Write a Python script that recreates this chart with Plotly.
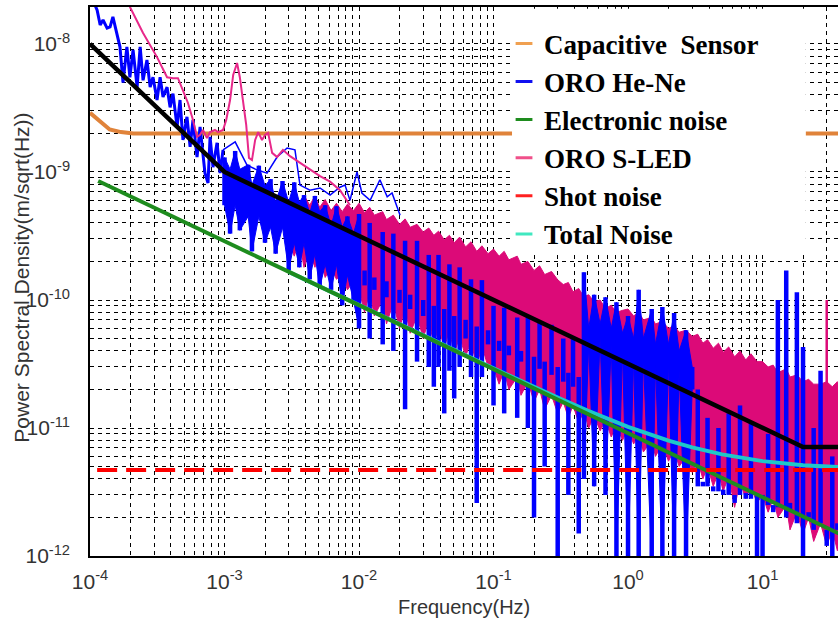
import plotly.graph_objects as go

# ---------------- data ----------------
# common frequency grid of the dense high-resolution spectra (Hz)
dense_freq = [
    1.0e-3, 1.1e-3, 1.2e-3, 1.3e-3, 1.5e-3, 1.6e-3, 1.8e-3, 2.0e-3, 2.2e-3, 2.4e-3, 2.7e-3, 3.0e-3,
    3.3e-3, 3.6e-3, 3.9e-3, 4.3e-3, 4.7e-3, 5.1e-3, 5.6e-3, 6.2e-3, 6.8e-3, 7.5e-3, 8.2e-3, 9.1e-3,
    1.0e-2, 1.1e-2, 1.2e-2, 1.3e-2, 1.5e-2, 1.6e-2, 1.8e-2, 2.0e-2, 2.2e-2, 2.4e-2, 2.7e-2, 3.0e-2,
    3.3e-2, 3.6e-2, 3.9e-2, 4.3e-2, 4.7e-2, 5.1e-2, 5.6e-2, 6.2e-2, 6.8e-2, 7.5e-2, 8.2e-2, 9.1e-2,
    0.10, 0.11, 0.12, 0.13, 0.15, 0.16, 0.18, 0.20, 0.22, 0.24, 0.27, 0.30,
    0.33, 0.36, 0.39, 0.43, 0.47, 0.51, 0.56, 0.62, 0.68, 0.75, 0.82, 0.91,
    1.0, 1.1, 1.2, 1.3, 1.5, 1.6, 1.8, 2.0, 2.2, 2.4, 2.7, 3.0,
    3.3, 3.6, 3.9, 4.3, 4.7, 5.1, 5.6, 6.2, 6.8, 7.5, 8.2, 9.1,
    10, 11, 12, 13, 15, 16, 18, 20, 22, 24, 27, 30, 33, 36, 39]

# ORO He-Ne: upper / lower edge of the dense spectrum (m/sqrt(Hz))
he_ne_upper = [
    1.3e-9, 1.05e-9, 1.46e-9, 1.05e-9, 1.14e-9, 7.9e-10, 1.12e-9, 7.8e-10, 8.8e-10, 5.8e-10, 8.5e-10, 5.8e-10,
    8.3e-10, 5.8e-10, 6.6e-10, 4.8e-10, 6.5e-10, 4.9e-10, 5.5e-10, 3.8e-10, 5.4e-10, 3.7e-10, 4.5e-10, 3.3e-10,
    4.7e-10, 1.7e-10, 4.0e-10, 1.5e-10, 3.4e-10, 1.4e-10, 3.3e-10, 1.2e-10, 2.9e-10, 1.1e-10, 2.9e-10, 1.0e-10,
    2.25e-10, 9.0e-11, 2.25e-10, 8.5e-11, 1.9e-10, 7.5e-11, 1.8e-10, 7.0e-11, 1.45e-10, 6.2e-11, 1.43e-10, 5.8e-11,
    9.0e-11, 4.8e-11, 8.7e-11, 4.4e-11, 7.3e-11, 4.0e-11, 7.5e-11, 3.6e-11, 6.7e-11, 3.3e-11, 6.4e-11, 3.0e-11,
    5.0e-11, 2.7e-11, 5.1e-11, 2.5e-11, 1.65e-10, 6.0e-11, 1.1e-10, 6.5e-11, 1.05e-10, 6.0e-11, 9.6e-11, 5.5e-11,
    7.5e-11, 5.0e-11, 1.2e-10, 5.0e-11, 8.5e-11, 4.5e-11, 8.8e-11, 4.5e-11, 7.9e-11, 4.0e-11, 5.8e-11, 3.0e-11,
    2.0e-11, 3.8e-12, 1.2e-11, 3.5e-12, 1.0e-11, 3.3e-12, 1.3e-11, 3.0e-12, 1.5e-11, 3.1e-12, 1.1e-11, 3.0e-12,
    3.0e-12, 9.0e-12, 2.5e-12, 1.0e-10, 1.7e-10, 2.6e-12, 1.15e-10, 4.3e-11, 2.2e-12, 1.0e-11, 2.8e-11, 1.6e-12,
    6.0e-12, 1.8e-12, 1.7e-12]
he_ne_lower = [
    5.5e-10, 3.3e-10, 5.5e-10, 3.5e-10, 4.5e-10, 2.4e-10, 4.5e-10, 2.8e-10, 3.7e-10, 2.3e-10, 3.7e-10, 1.7e-10,
    2.8e-10, 1.8e-10, 2.8e-10, 1.45e-10, 2.3e-10, 1.24e-10, 1.9e-10, 1.2e-10, 1.9e-10, 9.1e-11, 1.57e-10, 9.9e-11,
    6.0e-11, 1.3e-10, 5.0e-11, 1.2e-10, 4.5e-11, 1.05e-10, 4.0e-11, 9.5e-11, 1.4e-11, 8.5e-11, 3.3e-11, 7.5e-11,
    3.0e-11, 2.1e-11, 3.0e-11, 1.3e-11, 2.8e-11, 1.7e-11, 3.0e-11, 5.0e-11, 2.5e-11, 2.6e-12, 2.5e-11, 4.5e-11,
    1.5e-11, 4.0e-11, 1.3e-11, 3.7e-11, 1.2e-11, 3.3e-11, 1.0e-11, 2.0e-12, 2.9e-11, 5.0e-12, 2.6e-11, 9.0e-13,
    2.3e-11, 3.0e-12, 2.1e-11, 1.5e-12, 4.0e-12, 4.5e-11, 3.5e-12, 5.0e-11, 3.0e-12, 4.5e-11, 9.0e-13, 4.0e-11,
    9.0e-13, 3.5e-11, 9.0e-13, 3.5e-11, 9.0e-13, 3.2e-11, 9.0e-13, 3.2e-11, 9.0e-13, 2.8e-11, 9.0e-13, 2.0e-11,
    3.5e-12, 3.5e-12, 3.5e-12, 3.2e-12, 3.2e-12, 3.0e-12, 3.0e-12, 2.6e-12, 3.0e-12, 2.8e-12, 2.8e-12, 9.0e-13,
    9.0e-13, 2.5e-12, 2.2e-12, 2.4e-12, 2.0e-12, 2.3e-12, 1.8e-12, 9.0e-13, 2.0e-12, 1.6e-12, 1.8e-12, 1.2e-12,
    9.0e-13, 1.6e-12, 1.5e-12]

# ORO S-LED dense spectrum starts at 3 mHz (same grid)
s_led_freq = dense_freq[11:]
s_led_upper = [
    5.8e-10, 6.6e-10, 5.5e-10, 6.6e-10, 5.5e-10, 6.5e-10, 5.3e-10, 6.1e-10, 5.0e-10, 5.7e-10, 4.9e-10, 5.6e-10, 5.0e-10,
    5.7e-10, 4.8e-10, 5.3e-10, 4.6e-10, 4.9e-10, 4.25e-10, 4.6e-10, 3.9e-10, 4.3e-10, 3.7e-10, 3.9e-10, 3.4e-10,
    3.65e-10, 3.2e-10, 3.45e-10, 2.95e-10, 3.2e-10, 2.8e-10, 3.1e-10, 2.6e-10, 2.85e-10, 2.4e-10, 2.65e-10, 2.3e-10,
    2.5e-10, 2.2e-10, 2.4e-10, 2.06e-10, 2.2e-10, 1.9e-10, 2.0e-10, 1.7e-10, 1.85e-10, 1.58e-10, 1.67e-10, 1.44e-10,
    1.32e-10, 1.37e-10, 1.16e-10, 1.23e-10, 1.06e-10, 1.1e-10, 9.7e-11, 1.0e-10, 8.6e-11, 9.1e-11, 8.0e-11, 8.3e-11,
    8.5e-11, 7.5e-11, 8.0e-11, 7.0e-11, 7.3e-11, 6.5e-11, 6.8e-11, 6.0e-11, 6.3e-11, 5.6e-11, 5.8e-11, 5.2e-11,
    5.4e-11, 4.6e-11, 4.9e-11, 4.2e-11, 4.6e-11, 3.9e-11, 4.3e-11, 3.6e-11, 4.0e-11, 3.4e-11, 3.8e-11, 3.3e-11,
    3.3e-11, 3.0e-11, 3.1e-11, 2.7e-11, 2.9e-11, 2.5e-11, 2.6e-11, 2.3e-11, 2.4e-11, 2.2e-11, 2.2e-11, 2.3e-11,
    2.1e-11, 2.3e-11, 2.1e-11]
s_led_lower = [
    2.9e-10, 2.2e-10, 2.9e-10, 1.8e-10, 2.4e-10, 1.8e-10, 2.2e-10, 1.5e-10, 1.8e-10, 1.45e-10, 1.6e-10, 1.2e-10, 1.4e-10,
    1.2e-10, 8.0e-11, 1.15e-10, 7.5e-11, 1.0e-10, 6.5e-11, 9.5e-11, 6.0e-11, 8.5e-11, 5.5e-11, 7.5e-11, 5.0e-11,
    7.0e-11, 4.5e-11, 6.2e-11, 4.2e-11, 5.8e-11, 3.8e-11, 5.2e-11, 3.6e-11, 4.8e-11, 3.0e-11, 4.4e-11, 3.0e-11,
    3.0e-11, 2.2e-11, 2.8e-11, 2.0e-11, 2.5e-11, 1.8e-11, 2.3e-11, 1.6e-11, 2.0e-11, 1.4e-11, 1.8e-11, 1.3e-11,
    1.6e-11, 1.2e-11, 1.5e-11, 1.1e-11, 1.35e-11, 1.0e-11, 1.25e-11, 9.5e-12, 1.15e-11, 8.5e-12, 1.05e-11, 8.0e-12,
    1.0e-11, 7.5e-12, 9.0e-12, 6.5e-12, 8.0e-12, 6.0e-12, 7.5e-12, 5.5e-12, 6.8e-12, 5.0e-12, 6.0e-12, 4.5e-12,
    5.5e-12, 4.0e-12, 5.0e-12, 3.5e-12, 4.5e-12, 3.2e-12, 4.2e-12, 2.4e-12, 3.8e-12, 2.8e-12, 3.5e-12, 2.6e-12,
    3.0e-12, 2.2e-12, 2.8e-12, 2.0e-12, 2.5e-12, 1.6e-12, 2.2e-12, 1.5e-12, 2.0e-12, 1.3e-12, 1.8e-12, 1.2e-12,
    1.6e-12, 1.1e-12, 1.4e-12]
# narrow S-LED line at 30 Hz
s_led_line_freq = [30]
s_led_line_psd = [1.0e-10]

# ORO He-Ne below 1 mHz
he_ne_lf_freq = [
    1.05e-4, 1.13e-4, 1.19e-4, 1.25e-4, 1.34e-4, 1.41e-4, 1.48e-4, 1.59e-4, 1.67e-4, 1.76e-4,
    1.88e-4, 1.98e-4, 2.09e-4, 2.24e-4, 2.36e-4, 2.48e-4, 2.65e-4, 2.80e-4, 2.94e-4, 3.15e-4,
    3.32e-4, 3.49e-4, 3.74e-4, 3.94e-4, 4.14e-4, 4.44e-4, 4.67e-4, 4.91e-4, 5.26e-4, 5.55e-4,
    5.83e-4, 6.25e-4, 6.58e-4, 7.16e-4, 7.54e-4, 7.81e-4, 8.21e-4, 8.80e-4, 9.27e-4, 9.75e-4]
he_ne_lf_psd = [
    2.2e-8, 1.84e-8, 1.41e-8, 1.54e-8, 1.33e-8, 1.36e-8, 1.63e-8, 1.22e-8, 9.5e-9, 5.0e-9,
    9.5e-9, 5.5e-9, 9.0e-9, 4.6e-9, 9.5e-9, 5.2e-9, 7.5e-9, 4.6e-9, 5.5e-9, 3.65e-9,
    5.5e-9, 3.85e-9, 4.6e-9, 3.2e-9, 4.1e-9, 2.25e-9, 3.65e-9, 1.78e-9, 2.7e-9, 1.57e-9,
    2.55e-9, 1.31e-9, 2.25e-9, 9.8e-10, 8.2e-10, 1.88e-9, 1.09e-9, 1.69e-9, 9.8e-10, 1.49e-9]

# low-resolution (averaged) curves
he_ne_smooth_freq = [9.75e-4, 1.2e-3, 1.47e-3, 1.74e-3, 2.07e-3, 2.46e-3, 2.92e-3, 3.34e-3, 3.64e-3, 4.32e-3, 5.13e-3,
                     6.09e-3, 7.22e-3, 7.87e-3, 8.57e-3, 9.66e-3, 1.05e-2, 1.21e-2, 1.43e-2, 1.62e-2, 1.76e-2, 2.02e-2]
he_ne_smooth_psd = [1.49e-9, 1.72e-9, 1.13e-9, 1.04e-9, 9.8e-10, 1.31e-9, 1.54e-9, 1.49e-9, 7.9e-10, 7.2e-10, 7.5e-10,
                    6.6e-10, 7.6e-10, 7.9e-10, 6.0e-10, 1.0e-9, 6.85e-10, 6.0e-10, 8.7e-10, 6.4e-10, 6.85e-10, 4.6e-10]
s_led_smooth_freq = [
    1.82e-4, 1.98e-4, 2.48e-4, 3.15e-4, 3.74e-4, 4.14e-4, 4.51e-4, 4.91e-4, 5.35e-4, 5.83e-4,
    6.25e-4, 6.58e-4, 6.92e-4, 7.41e-4, 7.81e-4, 8.50e-4, 8.95e-4, 9.75e-4, 1.03e-3, 1.10e-3,
    1.16e-3, 1.24e-3, 1.30e-3, 1.37e-3, 1.45e-3, 1.52e-3, 1.60e-3, 1.69e-3, 1.78e-3, 1.90e-3,
    2.00e-3, 2.11e-3, 2.26e-3, 2.46e-3, 2.72e-3, 3.07e-3, 3.64e-3, 4.32e-3, 5.13e-3, 6.09e-3,
    7.22e-3, 8.57e-3]
s_led_smooth_psd = [
    2.64e-8, 1.95e-8, 1.22e-8, 7.9e-9, 5.5e-9, 5.4e-9, 5.4e-9, 4.37e-9, 3.46e-9, 2.55e-9,
    1.88e-9, 1.95e-9, 2.13e-9, 1.84e-9, 2.05e-9, 2.13e-9, 2.05e-9, 2.13e-9, 2.55e-9, 3.65e-9,
    5.73e-9, 7.1e-9, 5.5e-9, 3.65e-9, 2.33e-9, 1.29e-9, 1.24e-9, 1.78e-9, 2.05e-9, 1.78e-9,
    1.95e-9, 2.02e-9, 1.41e-9, 1.31e-9, 1.49e-9, 1.33e-9, 1.18e-9, 1.04e-9, 9.3e-10, 8.4e-10,
    7.2e-10, 5.5e-10]

cap_freq = [1.0e-4, 1.2e-4, 1.4e-4, 1.7e-4, 2.1e-4, 40]
cap_psd = [2.9e-9, 2.45e-9, 2.15e-9, 2.05e-9, 2.0e-9, 2.0e-9]

elec_freq = [1.15e-4, 1e-3, 1e-2, 1e-1, 1, 10, 40]
elec_psd = [8.5e-10, 2.88e-10, 9.1e-11, 2.88e-11, 9.1e-12, 2.88e-12, 1.44e-12]

shot_freq = [1.13e-4, 40]
shot_psd = [4.7e-12, 4.7e-12]

total_freq = [3e-3, 1e-2, 0.1, 0.3, 0.5, 1, 2, 3, 5, 10, 20, 40]
total_psd = [1.66e-10, 9.11e-11, 2.92e-11, 1.73e-11, 1.37e-11, 1.02e-11, 7.96e-12, 7.06e-12, 6.22e-12, 5.51e-12,
             5.12e-12, 4.92e-12]

req_freq = [1e-4, 1e-3, 20, 40]
req_psd = [1e-8, 1e-9, 7.1e-12, 7.1e-12]

legend_names = ["Capacitive\u00a0\u00a0Sensor", "ORO He-Ne", "Electronic noise", "ORO S-LED", "Shot noise", "Total Noise"]
x_tick_labels = ["10<sup>-4</sup>", "10<sup>-3</sup>", "10<sup>-2</sup>", "10<sup>-1</sup>", "10<sup>0</sup>", "10<sup>1</sup>"]
y_tick_labels = ["10<sup>-12</sup>", "10<sup>-11</sup>", "10<sup>-10</sup>", "10<sup>-9</sup>", "10<sup>-8</sup>"]

for nm, a, b, n in [("he_ne", he_ne_upper, he_ne_lower, len(dense_freq)),
                    ("s_led", s_led_upper, s_led_lower, len(s_led_freq))]:
    if len(a) != n or len(b) != n:
        print("LENGTH MISMATCH", nm, n, len(a), len(b))

# ---------------- styling ----------------
C_ORANGE = "#E0833A"
C_BLUE = "#0000FF"
C_MAG = "#DC0A78"
C_PINK = "#E8288A"
C_GREEN = "#1E8C1E"
C_RED = "#FF0000"
C_CYAN = "#1EC8C8"
legend_colors = ["#F0A050", "#1010F0", "#1E8C1E", "#F0508A", "#FF2020", "#40E8C0"]

# He-Ne dense spectrum drawn as vertical strokes (one per frequency bin)
he_x, he_y = [], []
for f, u, l in zip(dense_freq, he_ne_upper, he_ne_lower):
    he_x += [f, f, None]
    he_y += [u, l, None]


def band(i0, i1):
    """closed outline of the He-Ne bins i0..i1-1 (solid parts of the spectrum)"""
    fx = dense_freq[i0:i1]
    return fx + fx[::-1], he_ne_upper[i0:i1] + he_ne_lower[i0:i1][::-1]


core1_x, core1_y = band(0, 25)     # 1 mHz - 10 mHz
core2_x, core2_y = band(64, 84)    # 0.47 Hz - 3 Hz

sl_x, sl_y = [], []
for f, p in zip(s_led_line_freq, s_led_line_psd):
    sl_x += [f, f, None]
    sl_y += [p, 1.6e-11, None]

fig = go.Figure()

fig.add_trace(go.Scatter(x=cap_freq, y=cap_psd, mode="lines", line=dict(color=C_ORANGE, width=4),
                         showlegend=False, hoverinfo="skip"))
fig.add_trace(go.Scatter(x=s_led_freq + s_led_freq[::-1], y=s_led_upper + s_led_lower[::-1],
                         mode="lines", fill="toself", fillcolor=C_MAG, line=dict(color=C_MAG, width=1),
                         showlegend=False, hoverinfo="skip"))
fig.add_trace(go.Scatter(x=sl_x, y=sl_y, mode="lines", line=dict(color=C_MAG, width=2.5),
                         showlegend=False, hoverinfo="skip"))
for cx, cy in [(core1_x, core1_y), (core2_x, core2_y)]:
    fig.add_trace(go.Scatter(x=cx, y=cy, mode="lines", fill="toself", fillcolor=C_BLUE,
                             line=dict(color=C_BLUE, width=1), showlegend=False, hoverinfo="skip"))
fig.add_trace(go.Scatter(x=he_x, y=he_y, mode="lines", line=dict(color=C_BLUE, width=4.5),
                         connectgaps=False, showlegend=False, hoverinfo="skip"))
fig.add_trace(go.Scatter(x=he_ne_lf_freq, y=he_ne_lf_psd, mode="lines", line=dict(color=C_BLUE, width=3),
                         showlegend=False, hoverinfo="skip"))
fig.add_trace(go.Scatter(x=he_ne_smooth_freq, y=he_ne_smooth_psd, mode="lines", line=dict(color=C_BLUE, width=1.5),
                         showlegend=False, hoverinfo="skip"))
fig.add_trace(go.Scatter(x=s_led_smooth_freq, y=s_led_smooth_psd, mode="lines", line=dict(color=C_PINK, width=2),
                         showlegend=False, hoverinfo="skip"))
fig.add_trace(go.Scatter(x=total_freq, y=total_psd, mode="lines", line=dict(color=C_CYAN, width=4),
                         showlegend=False, hoverinfo="skip"))
fig.add_trace(go.Scatter(x=elec_freq, y=elec_psd, mode="lines", line=dict(color=C_GREEN, width=4),
                         showlegend=False, hoverinfo="skip"))
fig.add_trace(go.Scatter(x=shot_freq, y=shot_psd, mode="lines", line=dict(color=C_RED, width=4, dash="20px,9px"),
                         showlegend=False, hoverinfo="skip"))
fig.add_trace(go.Scatter(x=req_freq, y=req_psd, mode="lines", line=dict(color="black", width=4.5),
                         showlegend=False, hoverinfo="skip"))

# legend entries (short coloured dashes like the original)
for name, col in zip(legend_names, legend_colors):
    fig.add_trace(go.Scatter(x=[None], y=[None], mode="markers", name=name,
                             marker=dict(symbol="line-ew", size=12, color=col, line=dict(color=col, width=3))))

# grid positions (1..9 per decade)
x_grid, x_text = [], []
for k, e in enumerate(range(-4, 2)):
    for m in range(1, 10):
        v = m * 10.0 ** e
        if v <= 36:
            x_grid.append(v)
            x_text.append(x_tick_labels[k] if m == 1 else "")

y_grid, y_text = [], []
for k, e in enumerate(range(-12, -7)):
    for m in range(1, 10):
        v = m * 10.0 ** e
        if v <= 1.9e-8:
            y_grid.append(v)
            y_text.append(y_tick_labels[k] if m == 1 else "")

grid_style = dict(showgrid=True, gridcolor="black", gridwidth=1, griddash="4px,4px")
tickfont = dict(family="Liberation Sans, Arial", size=21, color="#333333")

fig.update_xaxes(type="log", range=[-4, 1.561], tickmode="array", tickvals=x_grid, ticktext=x_text,
                 showline=True, linecolor="black", linewidth=1.5, mirror=True, ticks="",
                 tickfont=tickfont, ticklabelstandoff=6, zeroline=False, **grid_style)
fig.update_yaxes(type="log", range=[-12, -7.711], tickmode="array", tickvals=y_grid, ticktext=y_text,
                 showline=True, linecolor="black", linewidth=1.5, mirror=False, ticks="",
                 tickfont=tickfont, ticklabelstandoff=14, zeroline=False, **grid_style)

fig.update_layout(
    width=838, height=623,
    margin=dict(l=90, r=0, t=7, b=67),
    paper_bgcolor="white", plot_bgcolor="white",
    showlegend=True,
    legend=dict(x=0.5535, xanchor="left", y=0.9775, yanchor="top", bgcolor="rgba(0,0,0,0)",
                borderwidth=0, tracegroupgap=0,
                font=dict(family="Liberation Serif, Times New Roman", size=27, color="black", weight="bold")),
    shapes=[dict(type="rect", xref="paper", yref="paper", x0=0.5642, x1=0.957, y0=0.550, y1=0.997,
                 fillcolor="white", line=dict(width=0), layer="above")],
    annotations=[
        dict(text="Power Spectral Density(m/sqrt(Hz))", xref="paper", yref="paper", x=-0.0909, y=0.507,
             textangle=-90, showarrow=False, xanchor="center", yanchor="middle",
             font=dict(family="Liberation Sans, Arial", size=21, color="#333333")),
        dict(text="Frequency(Hz)", xref="paper", yref="paper", x=0.5, y=-0.0929,
             showarrow=False, xanchor="center", yanchor="middle",
             font=dict(family="Liberation Sans, Arial", size=20, color="#333333")),
    ],
)

fig.write_html("out.html", config={"displayModeBar": False},
               post_script="document.body.style.margin='0px';")
